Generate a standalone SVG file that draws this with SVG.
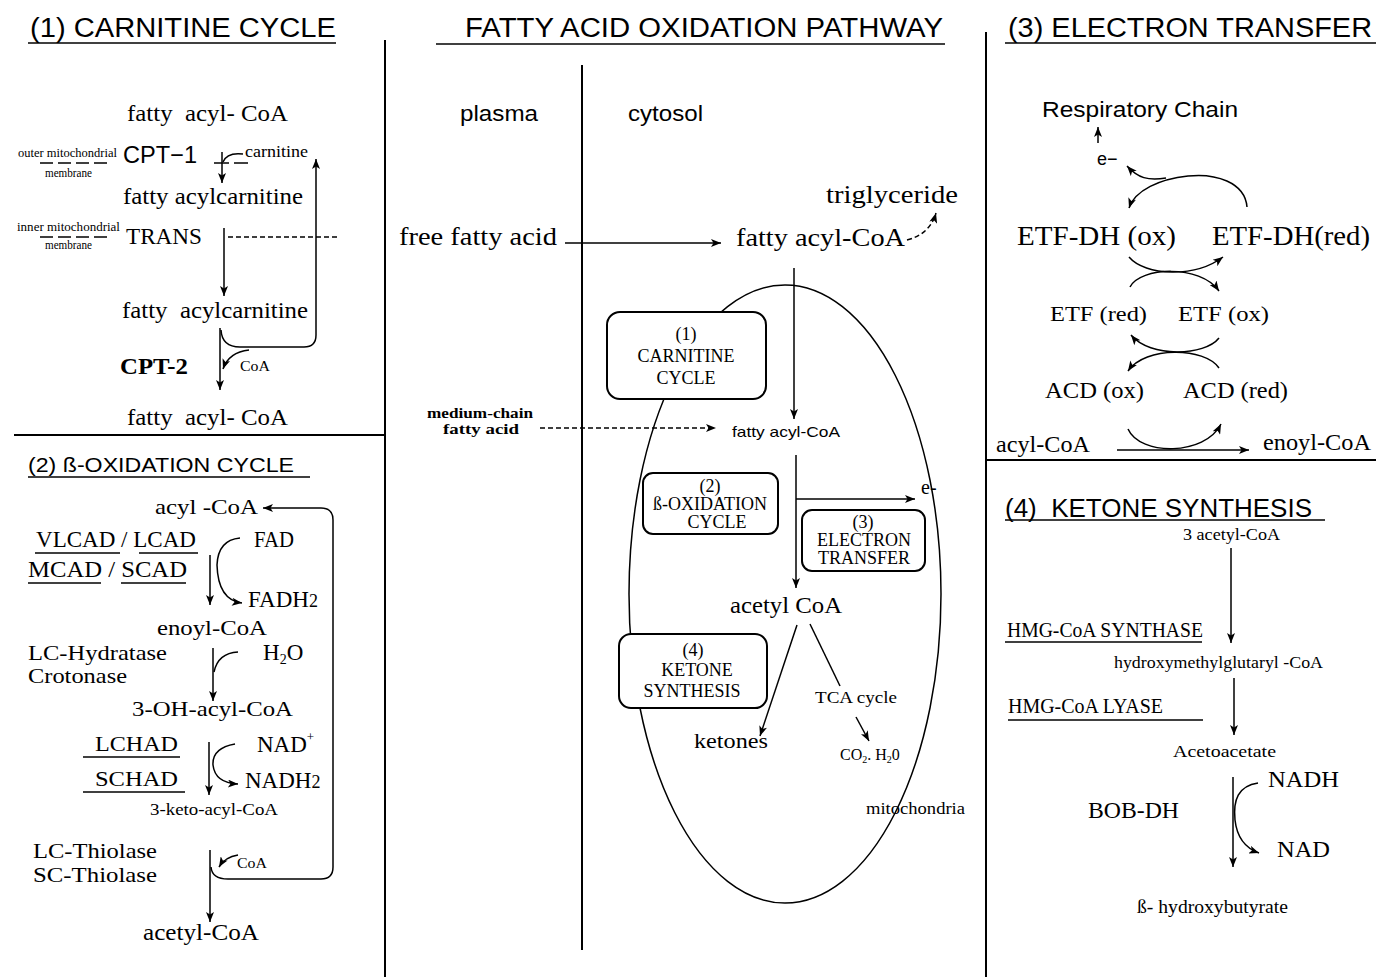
<svg xmlns="http://www.w3.org/2000/svg" width="1376" height="977" viewBox="0 0 1376 977">
<style>
text{fill:#000}
.s{font-family:"Liberation Sans",Arial,sans-serif}
.r{font-family:"Liberation Serif","Times New Roman",serif}
.ln{stroke:#000;stroke-width:1.5;fill:none}
.bd{stroke:#000;stroke-width:2;fill:none}
.dsh{stroke-dasharray:5 3}
.mem{stroke:#000;stroke-width:1.5;stroke-dasharray:13 5}
.box{fill:#fff;stroke:#000;stroke-width:2}
.bt{font-family:"Liberation Serif","Times New Roman",serif;font-size:18px;text-anchor:middle}
</style>
<defs>
<marker id="ah" viewBox="0 0 10 8" refX="10" refY="4" markerWidth="11" markerHeight="8" orient="auto" markerUnits="userSpaceOnUse"><path d="M0,0 L10,4 L0,8 L2.5,4 z" fill="#000"/></marker>
</defs>
<rect width="1376" height="977" fill="#fff"/>

<g id="frame">
<line class="bd" x1="385" y1="40" x2="385" y2="977"/>
<line class="bd" x1="582" y1="65" x2="582" y2="950"/>
<line class="bd" x1="986" y1="32" x2="986" y2="977"/>
<line class="bd" x1="14" y1="435" x2="385" y2="435"/>
<line class="bd" x1="986" y1="460" x2="1376" y2="460"/>
<ellipse class="ln" cx="785" cy="594" rx="156" ry="309"/>
</g>

<g id="titles">
<text class="s" x="30" y="37" font-size="27" textLength="306" lengthAdjust="spacingAndGlyphs">(1) CARNITINE CYCLE</text>
<line class="ln" x1="28" y1="43" x2="336" y2="43"/>
<text class="s" x="465" y="37" font-size="27" textLength="478" lengthAdjust="spacingAndGlyphs">FATTY ACID OXIDATION PATHWAY</text>
<line class="ln" x1="436" y1="44" x2="945" y2="44"/>
<text class="s" x="1008" y="37" font-size="27" textLength="364" lengthAdjust="spacingAndGlyphs">(3) ELECTRON TRANSFER</text>
<line class="ln" x1="1005" y1="43" x2="1376" y2="43"/>
<text class="s" x="28" y="472" font-size="21" textLength="266" lengthAdjust="spacingAndGlyphs">(2) ß-OXIDATION CYCLE</text>
<line class="ln" x1="28" y1="477" x2="310" y2="477"/>
<text class="s" x="1005" y="517" font-size="26" textLength="307" lengthAdjust="spacingAndGlyphs" style="white-space:pre">(4)  KETONE SYNTHESIS</text>
<line class="ln" x1="1005" y1="520" x2="1325" y2="520"/>
</g>

<g id="carnitine-cycle">
<g id="c-facoa1"><text class="r" x="127" y="121" font-size="23" textLength="161" lengthAdjust="spacingAndGlyphs" style="white-space:pre">fatty  acyl- CoA</text></g>
<g id="c-outer"><text class="r" x="18" y="157" font-size="12" textLength="99" lengthAdjust="spacingAndGlyphs">outer mitochondrial</text>
<line class="mem" x1="40" y1="163" x2="108" y2="163"/>
<text class="r" x="45" y="177" font-size="12" textLength="47" lengthAdjust="spacingAndGlyphs">membrane</text></g>
<g id="c-cpt1"><text class="s" x="123" y="163" font-size="24" textLength="74" lengthAdjust="spacingAndGlyphs">CPT−1</text></g>
<g id="c-carnitine"><text class="r" x="245" y="157" font-size="17" textLength="63" lengthAdjust="spacingAndGlyphs">carnitine</text></g>
<g id="c-facarn1"><text class="r" x="123" y="204" font-size="24" textLength="180" lengthAdjust="spacingAndGlyphs">fatty acylcarnitine</text></g>
<g id="c-inner"><text class="r" x="17" y="231" font-size="12" textLength="103" lengthAdjust="spacingAndGlyphs">inner mitochondrial</text>
<line class="mem" x1="40" y1="237" x2="108" y2="237"/>
<text class="r" x="45" y="249" font-size="12" textLength="47" lengthAdjust="spacingAndGlyphs">membrane</text></g>
<g id="c-trans"><text class="r" x="126" y="244" font-size="24" textLength="76" lengthAdjust="spacingAndGlyphs">TRANS</text></g>
<g id="c-facarn2"><text class="r" x="122" y="318" font-size="24" textLength="186" lengthAdjust="spacingAndGlyphs" style="white-space:pre">fatty  acylcarnitine</text></g>
<g id="c-cpt2"><text class="r" x="120" y="374" font-size="23" font-weight="bold" textLength="68" lengthAdjust="spacingAndGlyphs">CPT-2</text></g>
<g id="c-coa"><text class="r" x="240" y="371" font-size="14" textLength="30" lengthAdjust="spacingAndGlyphs">CoA</text></g>
<g id="c-facoa2"><text class="r" x="127" y="425" font-size="23" textLength="161" lengthAdjust="spacingAndGlyphs" style="white-space:pre">fatty  acyl- CoA</text></g>
</g>

<g id="beta-oxidation">
<g id="b-acylcoa"><text class="r" x="155" y="514" font-size="22" textLength="103" lengthAdjust="spacingAndGlyphs">acyl -CoA</text></g>
<g id="b-vlcad"><text class="r" x="36" y="547" font-size="23" textLength="160" lengthAdjust="spacingAndGlyphs">VLCAD / LCAD</text>
<line class="ln" x1="35" y1="553" x2="120" y2="553"/><line class="ln" x1="139" y1="553" x2="198" y2="553"/></g>
<g id="b-mcad"><text class="r" x="28" y="577" font-size="23" textLength="159" lengthAdjust="spacingAndGlyphs">MCAD / SCAD</text>
<line class="ln" x1="28" y1="583" x2="101" y2="583"/><line class="ln" x1="121" y1="583" x2="186" y2="583"/></g>
<g id="b-fad"><text class="r" x="254" y="547" font-size="23" textLength="40" lengthAdjust="spacingAndGlyphs">FAD</text></g>
<g id="b-fadh2"><text class="r" x="248" y="607" font-size="23">FADH<tspan font-size="18">2</tspan></text></g>
<g id="b-enoyl"><text class="r" x="157" y="635" font-size="22" textLength="110" lengthAdjust="spacingAndGlyphs">enoyl-CoA</text></g>
<g id="b-hydratase"><text class="r" x="28" y="660" font-size="21" textLength="139" lengthAdjust="spacingAndGlyphs">LC-Hydratase</text>
<text class="r" x="28" y="683" font-size="21" textLength="99" lengthAdjust="spacingAndGlyphs">Crotonase</text></g>
<g id="b-h2o"><text class="r" x="263" y="660" font-size="23">H<tspan font-size="14" dy="4">2</tspan><tspan dy="-4">O</tspan></text></g>
<g id="b-ohacyl"><text class="r" x="132" y="716" font-size="22" textLength="161" lengthAdjust="spacingAndGlyphs">3-OH-acyl-CoA</text></g>
<g id="b-lchad"><text class="r" x="95" y="751" font-size="22" textLength="83" lengthAdjust="spacingAndGlyphs">LCHAD</text>
<line class="ln" x1="83" y1="757" x2="180" y2="757"/></g>
<g id="b-schad"><text class="r" x="95" y="786" font-size="22" textLength="83" lengthAdjust="spacingAndGlyphs">SCHAD</text>
<line class="ln" x1="83" y1="792" x2="185" y2="792"/></g>
<g id="b-nad"><text class="r" x="257" y="752" font-size="23">NAD<tspan font-size="13" dy="-11">+</tspan></text></g>
<g id="b-nadh2"><text class="r" x="245" y="788" font-size="23">NADH<tspan font-size="18">2</tspan></text></g>
<g id="b-keto"><text class="r" x="150" y="815" font-size="16" textLength="128" lengthAdjust="spacingAndGlyphs">3-keto-acyl-CoA</text></g>
<g id="b-thiolase"><text class="r" x="33" y="858" font-size="21" textLength="124" lengthAdjust="spacingAndGlyphs">LC-Thiolase</text>
<text class="r" x="33" y="882" font-size="21" textLength="124" lengthAdjust="spacingAndGlyphs">SC-Thiolase</text></g>
<g id="b-coa"><text class="r" x="237" y="868" font-size="14" textLength="30" lengthAdjust="spacingAndGlyphs">CoA</text></g>
<g id="b-acetyl"><text class="r" x="143" y="940" font-size="23" textLength="116" lengthAdjust="spacingAndGlyphs">acetyl-CoA</text></g>
</g>

<g id="pathway">
<g id="p-plasma"><text class="s" x="460" y="121" font-size="22" textLength="78" lengthAdjust="spacingAndGlyphs">plasma</text></g>
<g id="p-cytosol"><text class="s" x="628" y="121" font-size="22" textLength="75" lengthAdjust="spacingAndGlyphs">cytosol</text></g>
<g id="p-ffa"><text class="r" x="399" y="245" font-size="26" textLength="158" lengthAdjust="spacingAndGlyphs">free fatty acid</text></g>
<g id="p-facoa"><text class="r" x="736" y="246" font-size="26" textLength="169" lengthAdjust="spacingAndGlyphs">fatty acyl-CoA</text></g>
<g id="p-trig"><text class="r" x="826" y="203" font-size="25" textLength="132" lengthAdjust="spacingAndGlyphs">triglyceride</text></g>
<g id="p-mcfa"><text class="r" x="427" y="418" font-size="15" font-weight="bold" textLength="106" lengthAdjust="spacingAndGlyphs">medium-chain</text>
<text class="r" x="443" y="434" font-size="15" font-weight="bold" textLength="76" lengthAdjust="spacingAndGlyphs">fatty acid</text></g>
<g id="p-facoa2"><text class="s" x="732" y="437" font-size="15" textLength="108" lengthAdjust="spacingAndGlyphs">fatty acyl-CoA</text></g>
<g id="p-e"><text class="r" x="921" y="494" font-size="20">e-</text></g>
<g id="p-acetyl"><text class="r" x="730" y="613" font-size="23" textLength="112" lengthAdjust="spacingAndGlyphs">acetyl CoA</text></g>
<g id="p-ketones"><text class="r" x="694" y="748" font-size="22" textLength="74" lengthAdjust="spacingAndGlyphs">ketones</text></g>
<g id="p-tca"><text class="r" x="815" y="703" font-size="16" textLength="82" lengthAdjust="spacingAndGlyphs">TCA cycle</text></g>
<g id="p-co2"><text class="r" x="840" y="760" font-size="16">CO<tspan font-size="10" dy="3">2</tspan><tspan dy="-3">. H</tspan><tspan font-size="10" dy="3">2</tspan><tspan dy="-3">0</tspan></text></g>
<g id="p-mito"><text class="r" x="866" y="814" font-size="16" textLength="99" lengthAdjust="spacingAndGlyphs">mitochondria</text></g>
<g id="box1"><rect class="box" x="607" y="312" width="159" height="87" rx="13"/>
<text class="bt" x="686" y="340">(1)</text><text class="bt" x="686" y="362">CARNITINE</text><text class="bt" x="686" y="384">CYCLE</text></g>
<g id="box2"><rect class="box" x="643" y="473" width="135" height="61" rx="10"/>
<text class="bt" x="710" y="492">(2)</text><text class="bt" x="710" y="510">ß-OXIDATION</text><text class="bt" x="717" y="528">CYCLE</text></g>
<g id="box3"><rect class="box" x="802" y="510" width="123" height="61" rx="10"/>
<text class="bt" x="863" y="528">(3)</text><text class="bt" x="864" y="546">ELECTRON</text><text class="bt" x="864" y="564">TRANSFER</text></g>
<g id="box4"><rect class="box" x="619" y="634" width="148" height="74" rx="12"/>
<text class="bt" x="693" y="656">(4)</text><text class="bt" x="697" y="676">KETONE</text><text class="bt" x="692" y="697">SYNTHESIS</text></g>
</g>

<g id="electron-transfer">
<g id="e-resp"><text class="s" x="1042" y="117" font-size="22" textLength="196" lengthAdjust="spacingAndGlyphs">Respiratory Chain</text></g>
<g id="e-e"><text class="s" x="1097" y="165" font-size="18">e−</text></g>
<g id="e-etfdhox"><text class="r" x="1017" y="245" font-size="27" textLength="159" lengthAdjust="spacingAndGlyphs">ETF-DH (ox)</text></g>
<g id="e-etfdhred"><text class="r" x="1212" y="245" font-size="27" textLength="158" lengthAdjust="spacingAndGlyphs">ETF-DH(red)</text></g>
<g id="e-etfred"><text class="r" x="1050" y="321" font-size="22" textLength="97" lengthAdjust="spacingAndGlyphs">ETF (red)</text></g>
<g id="e-etfox"><text class="r" x="1178" y="321" font-size="22" textLength="91" lengthAdjust="spacingAndGlyphs">ETF (ox)</text></g>
<g id="e-acdox"><text class="r" x="1045" y="398" font-size="23" textLength="99" lengthAdjust="spacingAndGlyphs">ACD (ox)</text></g>
<g id="e-acdred"><text class="r" x="1183" y="398" font-size="23" textLength="105" lengthAdjust="spacingAndGlyphs">ACD (red)</text></g>
<g id="e-acyl"><text class="r" x="996" y="452" font-size="23" textLength="94" lengthAdjust="spacingAndGlyphs">acyl-CoA</text></g>
<g id="e-enoyl"><text class="r" x="1263" y="450" font-size="23" textLength="108" lengthAdjust="spacingAndGlyphs">enoyl-CoA</text></g>
</g>

<g id="ketone-synthesis">
<g id="k-3acetyl"><text class="r" x="1183" y="540" font-size="16" textLength="97" lengthAdjust="spacingAndGlyphs">3 acetyl-CoA</text></g>
<g id="k-synthase"><text class="r" x="1007" y="637" font-size="21" textLength="196" lengthAdjust="spacingAndGlyphs">HMG-CoA SYNTHASE</text>
<line class="ln" x1="1005" y1="642" x2="1202" y2="642"/></g>
<g id="k-hmg"><text class="r" x="1114" y="668" font-size="16" textLength="209" lengthAdjust="spacingAndGlyphs">hydroxymethylglutaryl -CoA</text></g>
<g id="k-lyase"><text class="r" x="1008" y="713" font-size="21" textLength="155" lengthAdjust="spacingAndGlyphs">HMG-CoA LYASE</text>
<line class="ln" x1="1008" y1="720" x2="1203" y2="720"/></g>
<g id="k-aceto"><text class="r" x="1173" y="757" font-size="17" textLength="103" lengthAdjust="spacingAndGlyphs">Acetoacetate</text></g>
<g id="k-nadh"><text class="r" x="1268" y="787" font-size="23" textLength="71" lengthAdjust="spacingAndGlyphs">NADH</text></g>
<g id="k-bobdh"><text class="r" x="1088" y="818" font-size="23" textLength="91" lengthAdjust="spacingAndGlyphs">BOB-DH</text></g>
<g id="k-nad"><text class="r" x="1277" y="857" font-size="23" textLength="53" lengthAdjust="spacingAndGlyphs">NAD</text></g>
<g id="k-bhb"><text class="r" x="1137" y="913" font-size="18" textLength="151" lengthAdjust="spacingAndGlyphs">ß- hydroxybutyrate</text></g>
</g>

<g id="connectors">
<line class="ln" x1="214" y1="163" x2="229" y2="163"/>
<line class="ln" x1="234" y1="163" x2="248" y2="163"/>
<path class="ln" d="M243,154 Q227,152 223,162"/>
<line class="ln" x1="222" y1="152" x2="222" y2="183" marker-end="url(#ah)"/>
<line class="ln" x1="224" y1="228" x2="224" y2="296" marker-end="url(#ah)"/>
<line class="ln dsh" x1="228" y1="237" x2="340" y2="237"/>
<line class="ln" x1="220" y1="328" x2="220" y2="390" marker-end="url(#ah)"/>
<path class="ln" d="M221,330 Q222,347 240,347 L304,347 Q316,347 316,335 L316,159" marker-end="url(#ah)"/>
<path class="ln" d="M249,350 Q229,352 223,369" marker-end="url(#ah)"/>
<path class="ln" d="M211,867 Q212,879 228,879 L321,879 Q333,879 333,867 L333,520 Q333,508 321,508 L263,508" marker-end="url(#ah)"/>
<line class="ln" x1="210" y1="555" x2="210" y2="605" marker-end="url(#ah)"/>
<path class="ln" d="M240,538 Q218,540 217,565 Q218,600 242,603" marker-end="url(#ah)"/>
<line class="ln" x1="213" y1="648" x2="213" y2="701" marker-end="url(#ah)"/>
<path class="ln" d="M238,652 Q218,653 214,672"/>
<line class="ln" x1="209" y1="742" x2="209" y2="795" marker-end="url(#ah)"/>
<path class="ln" d="M235,744 Q212,748 213,765 Q215,783 238,784" marker-end="url(#ah)"/>
<line class="ln" x1="210" y1="850" x2="210" y2="922" marker-end="url(#ah)"/>
<path class="ln" d="M238,855 Q225,857 219,867" marker-end="url(#ah)"/>
<line class="ln" x1="565" y1="243" x2="721" y2="243" marker-end="url(#ah)"/>
<path class="ln dsh" d="M907,240 Q930,234 936,213" marker-end="url(#ah)"/>
<line class="ln" x1="794" y1="268" x2="794" y2="419" marker-end="url(#ah)"/>
<line class="ln dsh" x1="540" y1="428" x2="716" y2="428" marker-end="url(#ah)"/>
<line class="ln" x1="796" y1="455" x2="796" y2="588" marker-end="url(#ah)"/>
<line class="ln" x1="796" y1="499" x2="915" y2="499" marker-end="url(#ah)"/>
<line class="ln" x1="797" y1="625" x2="760" y2="736" marker-end="url(#ah)"/>
<line class="ln" x1="810" y1="624" x2="840" y2="686"/>
<line class="ln" x1="856" y1="717" x2="869" y2="741" marker-end="url(#ah)"/>
<line class="ln" x1="1098" y1="143" x2="1098" y2="127" marker-end="url(#ah)"/>
<path class="ln" d="M1247,207 C1245,182 1215,173 1188,176 C1160,179 1135,190 1129,208" marker-end="url(#ah)"/>
<path class="ln" d="M1166,178 C1148,181 1138,178 1127,166" marker-end="url(#ah)"/>
<path class="ln" d="M1129,257 C1145,276 1195,278 1223,257" marker-end="url(#ah)"/>
<path class="ln" d="M1130,287 C1140,267 1200,264 1219,291" marker-end="url(#ah)"/>
<path class="ln" d="M1219,338 C1205,356 1150,358 1131,335" marker-end="url(#ah)"/>
<path class="ln" d="M1219,368 C1205,347 1145,346 1128,371" marker-end="url(#ah)"/>
<line class="ln" x1="1117" y1="450" x2="1249" y2="450" marker-end="url(#ah)"/>
<path class="ln" d="M1128,429 C1140,456 1205,456 1221,424" marker-end="url(#ah)"/>
<line class="ln" x1="1231" y1="548" x2="1231" y2="643" marker-end="url(#ah)"/>
<line class="ln" x1="1234" y1="678" x2="1234" y2="735" marker-end="url(#ah)"/>
<line class="ln" x1="1233" y1="777" x2="1233" y2="867" marker-end="url(#ah)"/>
<path class="ln" d="M1258,783 C1238,786 1233,800 1235,820 C1237,838 1245,848 1259,853" marker-end="url(#ah)"/>
</g>
</svg>
